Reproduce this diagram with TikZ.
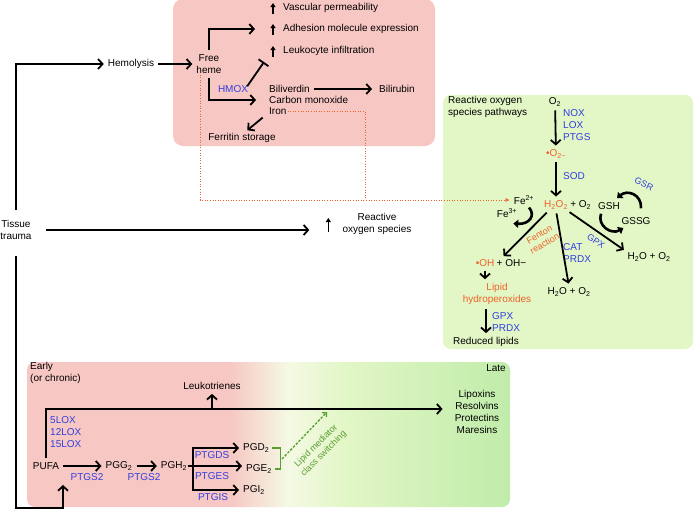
\documentclass[tikz,border=0pt]{standalone}
\usepackage{fontspec}
\setmainfont{Liberation Sans}
\usetikzlibrary{
        arrows.meta,
        backgrounds,
        positioning,
        shapes
    }
\definecolor{hemepink}{RGB}{247,199,195}
\definecolor{rosgreen}{RGB}{226,246,198}
\definecolor{midpale}{RGB}{244,249,228}
\definecolor{lategreen}{RGB}{192,236,170}
\definecolor{enzblue}{RGB}{50,62,222}
\definecolor{rosorange}{RGB}{240,98,40}
\definecolor{switchgreen}{RGB}{88,158,48}
\pgfdeclarehorizontalshading{earlylate}{100bp}{color(0bp)=(hemepink); color(46bp)=(hemepink); color(52bp)=(midpale); color(58bp)=(rosgreen); color(75bp)=(lategreen); color(100bp)=(lategreen)}
\tikzset{>={Straight Barb[length=4.5pt,width=10pt]}}
\tikzset{plain/.style={align=center,inner sep=1pt,font=\fontsize{10}{11.8}\selectfont}}
\tikzset{tilted/.style={font=\fontsize{9}{10.6}\selectfont}}
\tikzset{enzyme/.style={plain,text=enzblue}}
\tikzset{oxidant/.style={plain,text=rosorange}}
\tikzset{switchtext/.style={plain,text=switchgreen}}
\tikzset{flow/.style={->,line width=1.8pt,shorten >=3pt,shorten <=3pt}}
\tikzset{rise/.style={-{Triangle[length=4pt,width=5pt]},line width=1.4pt}}
\tikzset{inhib/.style={-{Bar[width=12pt]},line width=1.8pt}}
\tikzset{curl/.style={-{Triangle[length=5pt,width=8pt]},line width=2.6pt}}
\tikzset{ironline/.style={rosorange,line width=0.9pt,dash pattern=on 1pt off 1.6pt}}
\tikzset{bracket/.style={switchgreen,line width=1.6pt}}
\tikzset{switch/.style={switchgreen,line width=1.3pt,dash pattern=on 2.5pt off 1.5pt,-{Straight Barb[length=3pt,width=6pt]}}}

\begin{document}
\begin{tikzpicture}[x=1pt,y=-1pt]
\useasboundingbox (0,0) rectangle (695,512);
% panels
\fill[hemepink,rounded corners=10pt] (173,-1) rectangle (435,146);
\fill[rosgreen,rounded corners=8pt] (443,95) rectangle (693,349);
\shade[shading=earlylate,rounded corners=8pt] (27,362) rectangle (510,507);

\node[plain] (tissue) at (16,230) {Tissue\\trauma};

% hemolysis
\node[plain] (hemolysis) at (131,64) {Hemolysis};
\node[plain] (heme) at (209,64) {Free\\heme};
\node[plain,anchor=west] (vascular) at (282,8) {Vascular permeability};
\node[plain,anchor=west] (adhesion) at (282,29) {Adhesion molecule expression};
\node[plain,anchor=west] (leukocyte) at (282,51) {Leukocyte infiltration};
\node[enzyme] (hmox) at (233,89) {HMOX};
\node[plain,anchor=west] (biliverdin) at (268,89) {Biliverdin};
\node[plain,anchor=west] (monoxide) at (268,100) {Carbon monoxide};
\node[plain,anchor=west] (iron) at (268,111) {Iron};
\node[plain,anchor=west] (bilirubin) at (378,89) {Bilirubin};
\node[plain] (ferritin) at (242,138) {Ferritin storage};

\foreach \n in {vascular,adhesion,leukocyte}
    \draw[rise] ([xshift=-9pt,yshift=-6pt]\n.west) -- ++(0,-11);
\draw[flow,shorten <=9pt] (tissue.north) |- (hemolysis.west);
\draw[flow] (heme.north) |- ([xshift=-24pt]adhesion.west);
\draw[flow] (heme.south) |- ([xshift=-9pt]monoxide.west);
\draw[inhib] ([xshift=-2pt,yshift=-2pt]hmox.north east) -- ([xshift=-18pt,yshift=-11pt]leukocyte.west);
\draw[flow] ([xshift=-3pt]iron.south west) -- ([xshift=3pt]ferritin.north);
\path[flow]
    (hemolysis) edge (heme)
    (biliverdin) edge[shorten >=6pt] (bilirubin);

% reactive oxygen species
\node[plain,anchor=west,align=left] (rostitle) at (447,107) {Reactive oxygen\\species pathways};
\node[plain] (o2) at (555,102) {O\textsubscript{2}};
\node[oxidant] (superoxide) at (556,154) {•O\textsubscript{2−}};
\node[oxidant] (peroxide) at (556,205) {H\textsubscript{2}O\textsubscript{2}};
\node[plain,right=0pt of peroxide] (peroxideox) {+ O\textsubscript{2}};
\node[plain] (gsh) at (609,206) {GSH};
\node[plain] (gssg) at (636,221) {GSSG};
\node[plain] (fe2) at (524,200) {Fe\textsuperscript{2+}};
\node[plain] (fe3) at (507,213) {Fe\textsuperscript{3+}};
\node[oxidant] (hydroxyl) at (485,263) {•OH};
\node[plain,right=0pt of hydroxyl] (hydroxide) {+ OH−};
\node[oxidant] (lipid) at (497,294) {Lipid\\hydroperoxides};
\node[plain] (reduced) at (486,342) {Reduced lipids};
\node[plain] (water) at (569,292) {H\textsubscript{2}O + O\textsubscript{2}};
\node[plain] (waterb) at (649,257) {H\textsubscript{2}O + O\textsubscript{2}};
\node[enzyme,anchor=west,align=left] (nox) at (562,125) {NOX\\LOX\\PTGS};
\node[enzyme,anchor=west] (sod) at (562,176) {SOD};
\node[enzyme,anchor=west,align=left] (cat) at (562,253) {CAT\\PRDX};
\node[enzyme,anchor=west,align=left] (gpxlipid) at (491,322) {GPX\\PRDX};
\node[enzyme,tilted,rotate=-25] (gsr) at (644,184) {GSR};
\node[enzyme,tilted,rotate=-34] (gpx) at (596,241) {GPX};
\node[oxidant,tilted,rotate=30] (fenton) at (542,239) {Fenton\\reaction};

\path[flow]
    (o2) edge (superoxide)
    (superoxide) edge (peroxide)
    (peroxide.south) edge (water.north)
    ([xshift=6pt]peroxide.south west) edge ([xshift=6pt]hydroxyl.north east)
    ([xshift=-2pt]peroxide.south east) edge (waterb.north west)
    (hydroxyl.south) edge (hydroxyl.south |- lipid.north)
    (reduced.north |- lipid.south) edge (reduced.north);
\draw[curl] ([xshift=5pt,yshift=-2pt]fe2.south) .. controls +(7,8) and +(16,1) .. ([xshift=-5pt,yshift=-5pt]fe3.south east);
\draw[curl] ([xshift=5pt,yshift=8pt]gssg.north) .. controls +(1,-14) and +(10,-9) .. ([xshift=-4pt,yshift=3pt]gsh.north east);
\draw[curl] ([xshift=-8pt,yshift=-3pt]gsh.south) .. controls +(-4,12) and +(-12,7) .. ([xshift=3pt,yshift=-7pt]gssg.west);

% iron to Fenton chemistry
\coordinate (ironturn) at (365,200);
\draw[ironline] (iron.east) -| (ironturn);
\draw[ironline,-{Latex[length=4pt,width=4pt]}] ([xshift=5pt]heme.south west) |- ([xshift=-3pt]fe2.west);

% direct reactive oxygen species
\node[plain] (rosgen) at (377,224) {Reactive\\oxygen species};
\draw[rise] ([xshift=-13pt,yshift=-8pt]rosgen.west) -- ++(0,-14);
\draw[flow] ([xshift=10pt]tissue.east) -- ([xshift=-29pt,yshift=-6pt]rosgen.west);

% lipid mediators
\node[plain,anchor=west,align=left] (early) at (29,373) {Early\\(or chronic)};
\node[plain,anchor=east] (late) at (507,368) {Late};
\node[plain] (leuko) at (212,386) {Leukotrienes};
\node[plain] (lipox) at (477,412) {Lipoxins\\Resolvins\\Protectins\\Maresins};
\node[plain] (pufa) at (46,466) {PUFA};
\node[plain] (pgg) at (119,466) {PGG\textsubscript{2}};
\node[plain] (pgh) at (174,466) {PGH\textsubscript{2}};
\node[plain,anchor=west] (pgd) at (242,448) {PGD\textsubscript{2}};
\node[plain,anchor=west] (pge) at (245,469) {PGE\textsubscript{2}};
\node[plain,anchor=west] (pgi) at (242,490) {PGI\textsubscript{2}};
\node[enzyme,anchor=west,align=left] (lox) at (49,432) {5LOX\\12LOX\\15LOX};
\node[enzyme] (coxa) at (87,477) {PTGS2};
\node[enzyme] (coxb) at (144,477) {PTGS2};
\node[enzyme] (ptgds) at (212,455) {PTGDS};
\node[enzyme] (ptges) at (212,476) {PTGES};
\node[enzyme] (ptgis) at (213,497) {PTGIS};
\node[switchtext,tilted,rotate=45] (switching) at (320,450) {Lipid mediator\\class switching};

\coordinate (split) at ([xshift=5pt]pgh.east);
\coordinate (coxfoot) at (63,508);
\coordinate (coxin) at (63,485);
\coordinate (brkmid) at (282,459);
\coordinate (switchtip) at (327,412);
\draw[flow] (pufa.north) |- ([xshift=-8pt,yshift=3pt]lipox.west);
\draw[flow,shorten <=0pt] ([yshift=-18pt]leuko.south) -- (leuko.south);
\draw[flow,shorten <=15pt,shorten >=0pt] (tissue.south) |- (coxfoot) -- (coxin);
\path[flow]
    (pufa) edge (pgg)
    (pgg) edge (pgh);
\draw[line width=1.8pt] (pgh.east) -- (split);
\draw[flow,shorten <=0pt] (split) |- (pgd.west);
\draw[flow,shorten <=0pt] (split) -- (pge.west |- split);
\draw[flow,shorten <=0pt] (split) |- (pgi.west);
\draw[bracket] ([xshift=2pt]pgd.east) -- ++(8,0) |- ([xshift=2pt]pge.east);
\draw[switch] (brkmid) -- (switchtip);
\end{tikzpicture}
\end{document}
